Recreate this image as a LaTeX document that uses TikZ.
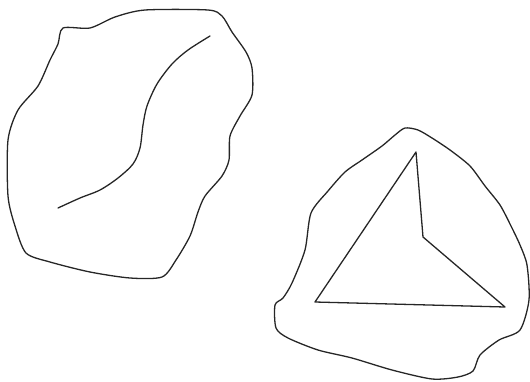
\documentclass[tikz,border=0pt]{standalone}
\usepackage{tikz}

\begin{document}
\begin{tikzpicture}[
      x=1pt, y=-1pt,
      blob/.style={draw=black!85, line width=1.3pt, line join=round},
      stroke/.style={draw=black!85, line width=1.3pt, line cap=round, line join=round},
    ]
    \useasboundingbox (0,0) rectangle (530,381);

    % left blob with its curved stroke
    \draw[blob] plot[smooth cycle, tension=0.45] coordinates {
      (63,28) (90,28) (115,17) (145,10) (208,10) (222,16) (232,32) (246,52)
      (252,68) (252,95) (240,116) (230,136) (229,160) (222,176) (205,196)
      (198,212) (190,236) (176,260) (162,277) (130,278) (90,272) (50,262)
      (26,253) (15,226) (8,196) (8,140) (18,110) (38,86) (50,60) (58,44)};
    \draw[stroke] plot[smooth, tension=0.5] coordinates {
      (58,208) (80,198) (100,190) (118,178) (133,164) (140,148) (143,125)
      (147,106) (157,84) (172,64) (188,50) (210,36)};

    % right blob with the triangle
    \draw[blob] plot[smooth cycle, tension=0.45] coordinates {
      (405,128) (418,130) (432,138) (450,150) (470,166) (485,186) (500,205)
      (511,226) (520,245) (527,265) (529,300) (520,330) (499,340) (480,355)
      (473,371) (458,377) (432,379) (392,370) (352,358) (318,350) (288,338)
      (276,328) (275,305) (283,298) (292,283) (305,250) (311,213) (328,191)
      (345,172) (362,160) (382,146) (395,135)};
    \draw[stroke] (416,152) -- (423,237) -- (505,307) -- (315,302) -- cycle;
  \end{tikzpicture}
\end{document}
